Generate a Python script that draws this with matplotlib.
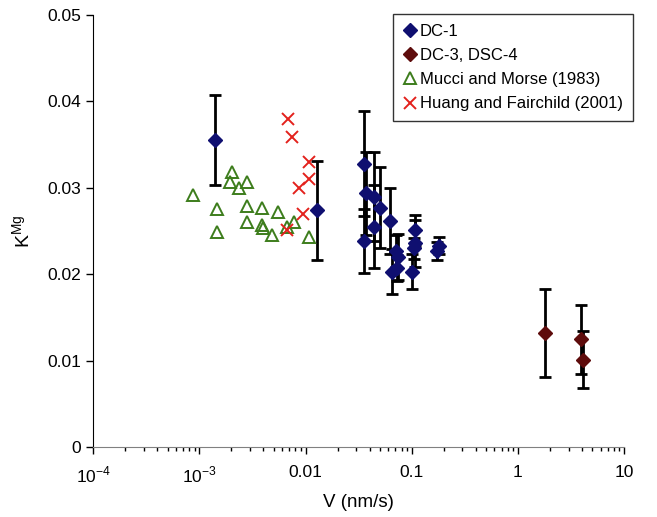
"""K_Mg versus growth rate V: DC-1 and DC-3/DSC-4 with literature data."""

import matplotlib

matplotlib.use("Agg")

import matplotlib.pyplot as plt
from matplotlib.lines import Line2D
from matplotlib.ticker import FixedLocator, LogLocator, NullFormatter

plt.rcParams["font.family"] = ["Liberation Sans", "DejaVu Sans"]
plt.rcParams["mathtext.fontset"] = "custom"
plt.rcParams["mathtext.rm"] = "Liberation Sans"

# DC-1 (this study), with error bars
dc1_v = [0.00140, 0.01291, 0.0358, 0.0372, 0.0358, 0.0445, 0.0445, 0.0503,
         0.0625, 0.0649, 0.0712, 0.0749, 0.0724, 0.1076, 0.1076, 0.1038,
         0.1001, 0.1786, 0.1725]
dc1_k = [0.0355, 0.0274, 0.0328, 0.0294, 0.0239, 0.0290, 0.0255, 0.0277,
         0.0262, 0.0203, 0.0227, 0.0220, 0.0207, 0.0251, 0.0236, 0.0230,
         0.0203, 0.0233, 0.0227]
dc1_err = [0.0052, 0.0057, 0.0061, 0.0048, 0.0037, 0.0052, 0.0048, 0.0047,
           0.0038, 0.0026, 0.0018, 0.0027, 0.0015, 0.0018, 0.0027, 0.0012,
           0.0020, 0.0010, 0.0010]

# DC-3, DSC-4
dc3_v = [1.81, 3.95, 4.10]
dc3_k = [0.0132, 0.0125, 0.0101]
dc3_err = [0.0051, 0.0040, 0.0033]

# Mucci and Morse (1983)
mm_v = [0.000877, 0.001476, 0.001476, 0.00204, 0.00194, 0.00236, 0.00279,
        0.00279, 0.00279, 0.00386, 0.00386, 0.00395, 0.00486, 0.00554,
        0.00665, 0.00784, 0.01087]
mm_k = [0.0292, 0.0275, 0.0249, 0.0318, 0.0307, 0.0300, 0.0307, 0.0279,
        0.0261, 0.0277, 0.0257, 0.0254, 0.0245, 0.0272, 0.0255, 0.0261,
        0.0243]

# Huang and Fairchild (2001)
hf_v = [0.00689, 0.00751, 0.01087, 0.01087, 0.00875, 0.00953, 0.00665]
hf_k = [0.0380, 0.0359, 0.0330, 0.0310, 0.0300, 0.0270, 0.0251]

x_ticks = [1e-4, 1e-3, 1e-2, 1e-1, 1, 10]
x_labels = [r"10$^{\mathregular{-4}}$", r"10$^{\mathregular{-3}}$", "0.01", "0.1", "1", "10"]
y_ticks = [0, 0.01, 0.02, 0.03, 0.04, 0.05]
y_labels = ["0", "0.01", "0.02", "0.03", "0.04", "0.05"]

navy = "#0f0f70"
maroon = "#5e0c0c"
green = "#3d7d1c"
red = "#e3211c"

fig = plt.figure(figsize=(6.57, 5.17), dpi=100)
ax = fig.add_axes([0.142, 0.135, 0.808, 0.836])

err_kw = dict(fmt="none", ecolor="black", elinewidth=2.0, capsize=4.5, capthick=2.0, zorder=2)
ax.errorbar(dc1_v, dc1_k, yerr=dc1_err, **err_kw)
ax.errorbar(dc3_v, dc3_k, yerr=dc3_err, **err_kw)
ax.plot(mm_v, mm_k, "^", ms=9, mfc="none", mec=green, mew=1.4, ls="none", zorder=3)
ax.plot(hf_v, hf_k, "x", ms=8, color=red, mew=1.4, ls="none", zorder=3)
ax.plot(dc1_v, dc1_k, "D", ms=7.5, color=navy, ls="none", zorder=4)
ax.plot(dc3_v, dc3_k, "D", ms=7.5, color=maroon, ls="none", zorder=4)

ax.set_xscale("log")
ax.set_xlim(1e-4, 10)
ax.set_ylim(0, 0.05)
ax.xaxis.set_major_locator(FixedLocator(x_ticks))
ax.set_xticklabels(x_labels)
ax.xaxis.set_minor_locator(LogLocator(base=10, subs=range(2, 10)))
ax.xaxis.set_minor_formatter(NullFormatter())
ax.set_yticks(y_ticks)
ax.set_yticklabels(y_labels)
ax.tick_params(axis="both", which="major", labelsize=12.5, direction="out", length=5, width=1)
ax.tick_params(axis="x", which="minor", direction="out", length=3, width=1)
ax.tick_params(axis="x", which="major", pad=8)

for side in ("top", "right"):
    ax.spines[side].set_visible(False)
ax.spines["bottom"].set_color("#808080")

ax.set_xlabel("V (nm/s)", fontsize=13.5, labelpad=6)
ax.set_ylabel(r"K$^{\mathregular{Mg}}$", fontsize=14, labelpad=10)

handles = [
    Line2D([], [], marker="D", ms=7, color=navy, ls="none"),
    Line2D([], [], marker="D", ms=7, color=maroon, ls="none"),
    Line2D([], [], marker="^", ms=9, mfc="none", mec=green, mew=1.4, ls="none"),
    Line2D([], [], marker="x", ms=8, color=red, mew=1.4, ls="none"),
]
labels = ["DC-1", "DC-3, DSC-4", "Mucci and Morse (1983)", "Huang and Fairchild (2001)"]
leg = fig.legend(handles, labels, loc="upper left", bbox_to_anchor=(0.598, 0.973),
                 fontsize=12, frameon=True, fancybox=False, edgecolor="black",
                 handlelength=0.8, handletextpad=0.2, borderpad=0.6, labelspacing=0.55,
                 borderaxespad=0)
leg.get_frame().set_linewidth(1.0)

fig.savefig("out.png", dpi=100)
